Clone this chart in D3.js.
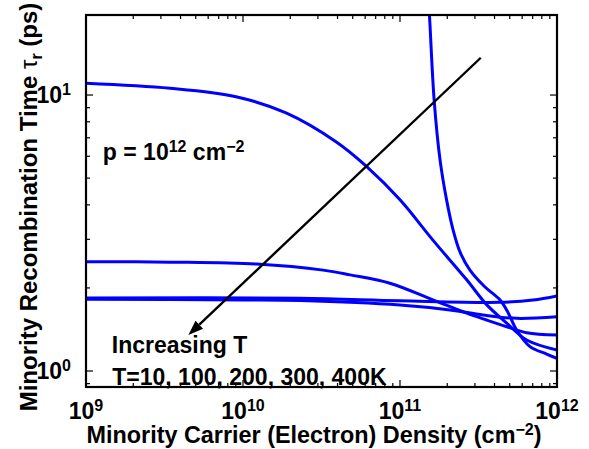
<!DOCTYPE html>
<html><head><meta charset="utf-8">
<script src="https://cdn.jsdelivr.net/npm/d3@7"></script>
<style>body{margin:0;background:#fff}svg{display:block}text{font-family:"Liberation Sans",Arial,Helvetica,sans-serif;font-weight:bold;fill:#000}</style>
</head><body><svg id="c" width="589" height="449"></svg>
<script>
// Series: minority carrier density (cm^-2) and recombination time (ps)
const nT10   = [1.49e11,1.54e11,1.65e11,1.80e11,1.98e11,2.18e11,2.41e11,2.79e11,3.48e11,4.34e11,4.90e11,5.53e11,6.73e11,8.59e11,1e12];
const tauT10 = [26.1,19.5,9.59,5.81,4.17,3.24,2.70,2.32,2.015,1.808,1.62,1.408,1.225,1.152,1.111];
const nT100   = [1e9,3.43e9,9.02e9,1.88e10,3.91e10,6.14e10,1e11,1.62e11,2.66e11,3.56e11,4.79e11,6.41e11,1e12];
const tauT100 = [11.03,10.58,9.86,8.61,6.77,5.50,4.17,2.98,2.14,1.74,1.49,1.295,1.191];
const nT200   = [1e9,3.43e9,1.22e10,3.24e10,4.81e10,8.63e10,1.62e11,2.66e11,3.56e11,4.79e11,6.41e11,1e12];
const tauT200 = [2.49,2.48,2.44,2.32,2.23,2.08,1.81,1.62,1.53,1.447,1.377,1.35];
const nT300   = [1e9,1e10,2.31e10,1e11,2.08e11,3.38e11,5.53e11,1e12];
const tauT300 = [1.82,1.81,1.80,1.734,1.664,1.596,1.552,1.573];
const nT400   = [1e9,2.31e10,1e11,4.34e11,7.03e11,1e12];
const tauT400 = [1.84,1.834,1.797,1.774,1.807,1.87];
const seriesN   = [nT10,nT100,nT200,nT300,nT400];
const seriesTau = [tauT10,tauT100,tauT200,tauT300,tauT400];
const xDomain = [1e9,1e12];
const yDomain = [0.875,19.5];
const xMajor = [1e9,1e10,1e11,1e12];
const xMajorExp = ["9","10","11","12"];
const yMajor = [1,10];
const yMajorExp = ["0","1"];
// Arrow (data coords): tail and head
const arrowN = [3.27e11,4.49e9];
const arrowTau = [13.65,1.35];

const L=86,R=557,T=15,B=387;
const svg=d3.select("#c");
const x=d3.scaleLog().domain(xDomain).range([L,R]);
const y=d3.scaleLog().domain(yDomain).range([B,T]);

svg.append("defs").append("clipPath").attr("id","clip").append("rect")
  .attr("x",L).attr("y",T).attr("width",R-L).attr("height",B-T);

// minor ticks
const xMinor=[];
for(let e=9;e<12;e++)for(let k=2;k<=9;k++)xMinor.push(k*Math.pow(10,e));
const yMinor=[0.9,2,3,4,5,6,7,8,9];
const tk=svg.append("g").attr("stroke","#000").attr("stroke-width",1.2);
xMinor.forEach(v=>{tk.append("line").attr("x1",x(v)).attr("x2",x(v)).attr("y1",B).attr("y2",B-4);
  tk.append("line").attr("x1",x(v)).attr("x2",x(v)).attr("y1",T).attr("y2",T+4);});
xMajor.forEach(v=>{tk.append("line").attr("x1",x(v)).attr("x2",x(v)).attr("y1",B).attr("y2",B-7);
  tk.append("line").attr("x1",x(v)).attr("x2",x(v)).attr("y1",T).attr("y2",T+7);});
yMinor.forEach(v=>{tk.append("line").attr("y1",y(v)).attr("y2",y(v)).attr("x1",L).attr("x2",L+4);
  tk.append("line").attr("y1",y(v)).attr("y2",y(v)).attr("x1",R).attr("x2",R-4);});
yMajor.forEach(v=>{tk.append("line").attr("y1",y(v)).attr("y2",y(v)).attr("x1",L).attr("x2",L+7);
  tk.append("line").attr("y1",y(v)).attr("y2",y(v)).attr("x1",R).attr("x2",R-7);});

// curves
const line=d3.line().x(d=>x(d[0])).y(d=>y(d[1])).curve(d3.curveCatmullRom.alpha(0.5));
const g=svg.append("g").attr("clip-path","url(#clip)");
seriesN.forEach((ns,i)=>{
  const pts=ns.map((n,j)=>[n,seriesTau[i][j]]);
  g.append("path").attr("d",line(pts)).attr("fill","none").attr("stroke","#0000ff").attr("stroke-width",3);
});

// box
svg.append("rect").attr("x",L).attr("y",T).attr("width",R-L).attr("height",B-T)
  .attr("fill","none").attr("stroke","#000").attr("stroke-width",2.2);

// tick labels
const FS=23;
xMajor.forEach((v,i)=>{
  const t=svg.append("text").attr("x",x(v)).attr("y",419).attr("text-anchor","middle").attr("font-size",FS);
  t.append("tspan").text("10");
  t.append("tspan").attr("dy",-8).attr("font-size",16).text(xMajorExp[i]);
});
yMajor.forEach((v,i)=>{
  const t=svg.append("text").attr("x",71).attr("y",y(v)+8).attr("text-anchor","end").attr("font-size",FS);
  t.append("tspan").text("10");
  t.append("tspan").attr("dy",-8).attr("font-size",16).text(yMajorExp[i]);
});

// axis labels
const xl=svg.append("text").attr("x",314).attr("y",443).attr("text-anchor","middle").attr("font-size",23.4);
xl.append("tspan").text("Minority Carrier (Electron) Density (cm");
xl.append("tspan").attr("dy",-8).attr("font-size",16).text("\u22122");
xl.append("tspan").attr("dy",8).text(")");

const yl=svg.append("text").attr("transform","translate(37,207) rotate(-90)").attr("text-anchor","middle").attr("font-size",24);
yl.append("tspan").text("Minority Recombination Time ");
yl.append("tspan").attr("font-weight","normal").text("\u03C4");
yl.append("tspan").attr("dy",5).attr("font-size",16).text("r");
yl.append("tspan").attr("dy",-5).text(" (ps)");

// annotations
const p=svg.append("text").attr("x",x(1.28e9)).attr("y",y(5.81)).attr("font-size",FS);
p.append("tspan").text("p = 10");
p.append("tspan").attr("dy",-8).attr("font-size",16).text("12");
p.append("tspan").attr("dy",8).text(" cm");
p.append("tspan").attr("dy",-8).attr("font-size",16).text("\u22122");

svg.append("text").attr("x",x(1.46e9)).attr("y",y(1.162)).attr("font-size",FS).text("Increasing T");
svg.append("text").attr("x",x(1.47e9)).attr("y",y(0.89)).attr("font-size",FS).text("T=10, 100, 200, 300, 400K");

// arrow
const x1=x(arrowN[0]),y1=y(arrowTau[0]),x2=x(arrowN[1]),y2=y(arrowTau[1]);
const ang=Math.atan2(y2-y1,x2-x1), hl=15, hw=5.5;
const bx=x2-hl*Math.cos(ang), by=y2-hl*Math.sin(ang);
svg.append("line").attr("x1",x1).attr("y1",y1).attr("x2",bx).attr("y2",by).attr("stroke","#000").attr("stroke-width",2.4);
svg.append("path").attr("d",`M${x2},${y2}L${bx+hw*Math.sin(ang)},${by-hw*Math.cos(ang)}L${bx-hw*Math.sin(ang)},${by+hw*Math.cos(ang)}Z`).attr("fill","#000");
</script></body></html>
